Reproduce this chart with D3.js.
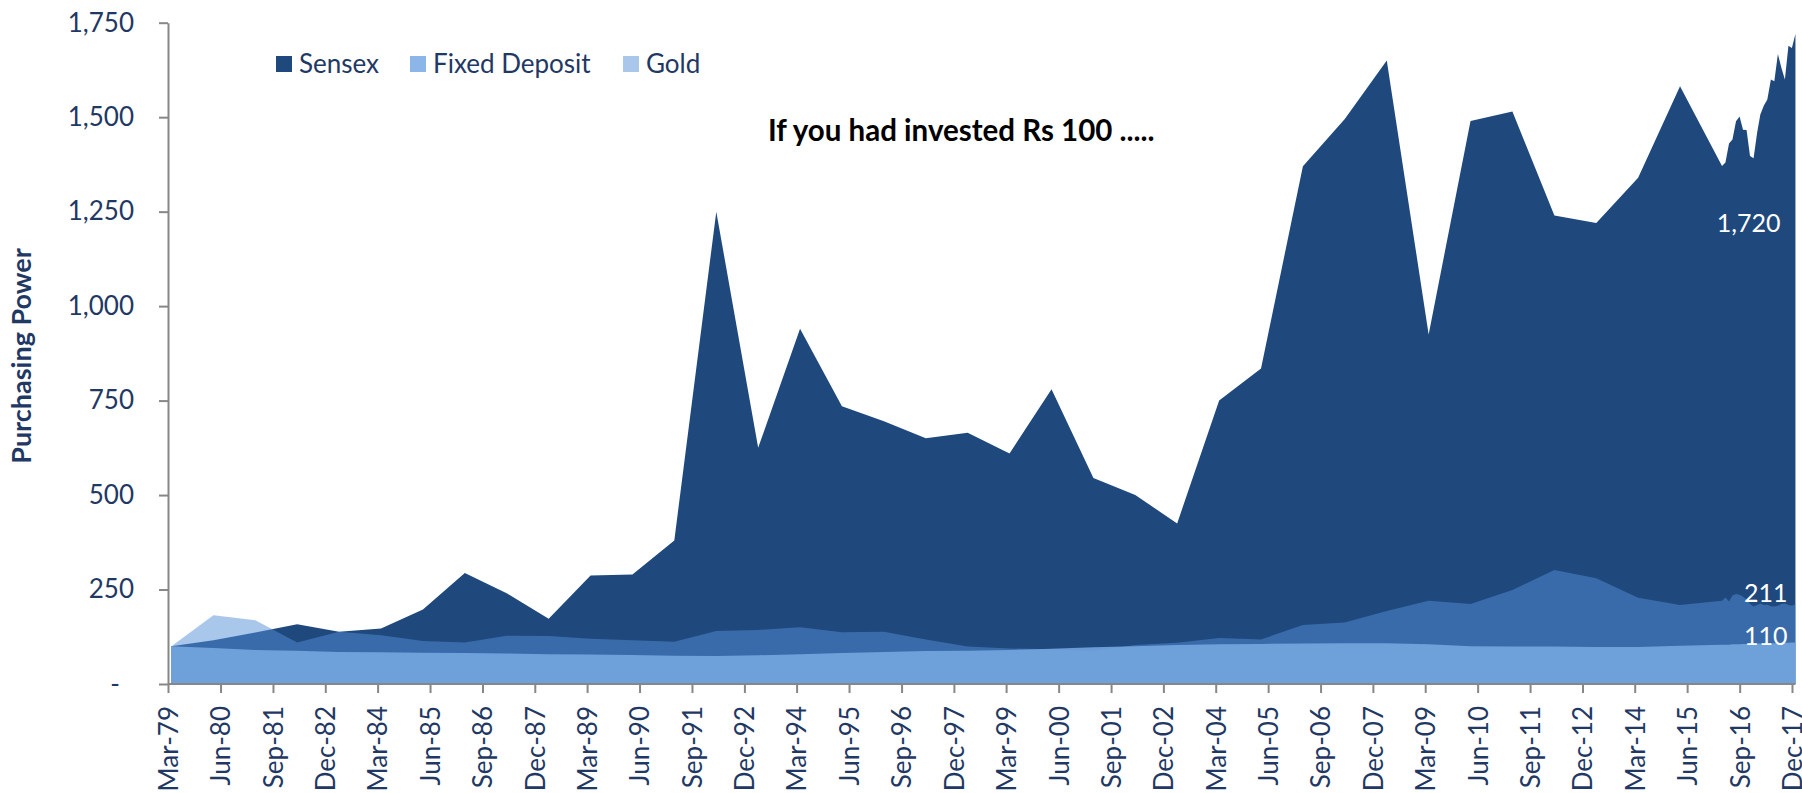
<!DOCTYPE html>
<html><head><meta charset="utf-8">
<script src="https://cdn.jsdelivr.net/npm/d3@7"></script>
<style>
body{margin:0;background:#fff}
svg{display:block}
text{font-family:Lato,"Open Sans",sans-serif}
</style>
</head><body>
<svg id="chart" width="1802" height="793"></svg>
<script>
// ---- data ----
const periods = [
  "Mar-79","Mar-80","Mar-81","Mar-82","Mar-83","Mar-84","Mar-85","Mar-86","Mar-87","Mar-88",
  "Mar-89","Mar-90","Mar-91","Mar-92","Mar-93","Mar-94","Mar-95","Mar-96","Mar-97","Mar-98",
  "Mar-99","Mar-00","Mar-01","Mar-02","Mar-03","Mar-04","Mar-05","Mar-06","Mar-07","Mar-08",
  "Mar-09","Mar-10","Mar-11","Mar-12","Mar-13","Mar-14","Mar-15","Mar-16",
  "Apr-16","May-16","Jun-16","Jul-16","Aug-16","Sep-16","Oct-16","Nov-16","Dec-16",
  "Jan-17","Feb-17","Mar-17","Apr-17","May-17","Jun-17","Jul-17","Aug-17","Sep-17","Oct-17","Nov-17","Dec-17"
];
const sensex = [
  100,116,136,158,138,147,197,294,240,173,
  287,290,380,1250,625,940,735,695,650,665,
  610,780,545,500,425,750,835,1370,1495,1650,
  925,1490,1515,1240,1220,1340,1582,1371,
  1380,1430,1441,1489,1502,1467,1466,1397,1391,
  1459,1507,1531,1547,1600,1595,1667,1630,1600,1689,1683,1720
];
const gold = [
  100,182,169,110,138,129,114,110,128,127,
  120,116,112,140,143,150,137,138,118,99,
  94,92,88,103,109,122,118,156,163,193,
  220,212,249,302,280,228,209,220,
  229,218,234,238,236,231,224,212,205,
  209,213,209,210,206,205,207,212,213,209,207,211
];
const fixedDeposit = [
  100,95,90,88,85,84,83,82,81,79,
  78,77,75,74,76,79,82,85,87,88,
  90,93,97,100,103,105,106,107,108,108,
  105,100,99,99,98,98,101,104,
  104,104,105,105,105,106,106,106,107,
  107,107,107,108,108,108,108,109,109,109,110,110
];
const xTickLabels = ["Mar-79","Jun-80","Sep-81","Dec-82","Mar-84","Jun-85","Sep-86","Dec-87","Mar-89","Jun-90",
  "Sep-91","Dec-92","Mar-94","Jun-95","Sep-96","Dec-97","Mar-99","Jun-00","Sep-01","Dec-02",
  "Mar-04","Jun-05","Sep-06","Dec-07","Mar-09","Jun-10","Sep-11","Dec-12","Mar-14","Jun-15","Sep-16","Dec-17"];
const yTicks = [0,250,500,750,1000,1250,1500,1750];
const seriesNames = ["Sensex","Fixed Deposit","Gold"];

// ---- setup ----
const svg = d3.select("#chart");
const parse = d3.timeParse("%b-%y");
const endOfMonth = d => new Date(d.getFullYear(), d.getMonth()+1, 0);
const dates = periods.map(p => endOfMonth(parse(p)));

const x = d3.scaleTime().domain([parse("Mar-79"), parse("Dec-17")]).range([168, 1792]);
const y = d3.scaleLinear().domain([0, 1750]).range([684, 22.7]);

const axisColor = "#878787";
const textColor = "#1F3864";

const styles = {
  "Sensex": {fill:"#1F497D", opacity:1},
  "Gold": {fill:"#538DD7", opacity:0.5},
  "Fixed Deposit": {fill:"#78A9E3", opacity:0.85}
};

const area = d3.area()
  .x(d => x(d.date))
  .y0(y(0))
  .y1(d => y(d.v));

const mk = arr => arr.map((v,i) => ({date: dates[i], v}));

const plot = svg.append("g");
[["Sensex", sensex], ["Gold", gold], ["Fixed Deposit", fixedDeposit]].forEach(([name, arr]) => {
  plot.append("path")
    .datum(mk(arr))
    .attr("d", area)
    .attr("fill", styles[name].fill)
    .attr("fill-opacity", styles[name].opacity);
});

// ---- axes ----
const yAxis = d3.axisLeft(y)
  .tickValues(yTicks)
  .tickSize(9)
  .tickSizeOuter(0)
  .tickPadding(25)
  .tickFormat(v => v === 0 ? "-" : d3.format(",")(v));

const gy = svg.append("g").attr("transform", `translate(${x.range()[0]},0)`).call(yAxis);
gy.select(".domain").attr("stroke", axisColor).attr("stroke-width", 2);
gy.selectAll(".tick line").attr("stroke", axisColor).attr("stroke-width", 2);
gy.selectAll(".tick text")
  .attr("fill", textColor)
  .style("font-size", "26px")
  .style("font-family", "Lato")
  .attr("x", v => v === 0 ? -48 : -34);

const xAxis = d3.axisBottom(x)
  .tickValues(xTickLabels.map(parse))
  .tickSize(9)
  .tickSizeOuter(0)
  .tickFormat(d3.timeFormat("%b-%y"));

const gx = svg.append("g").attr("transform", `translate(0,${y(0)})`).call(xAxis);
gx.select(".domain").attr("stroke", axisColor).attr("stroke-width", 2)
  .attr("d", `M${x.range()[0]},0H${x(dates[dates.length-1])}`);
gx.selectAll(".tick line").attr("stroke", axisColor).attr("stroke-width", 2);
gx.selectAll(".tick text")
  .attr("fill", textColor)
  .style("font-size", "26px")
  .style("font-family", "Lato")
  .attr("text-anchor", "end")
  .attr("transform", "rotate(-90)")
  .attr("x", -22)
  .attr("y", 0)
  .attr("dy", "0.36em");

// ---- axis title ----
svg.append("text")
  .attr("transform", `translate(31,356) rotate(-90)`)
  .attr("text-anchor", "middle")
  .attr("fill", textColor)
  .style("font-size", "27px")
  .style("font-weight", "bold")
  .text("Purchasing Power");

// ---- chart title ----
svg.append("text")
  .attr("x", 768).attr("y", 141)
  .attr("fill", "#000")
  .style("font-size", "29.5px")
  .style("font-weight", "bold")
  .text("If you had invested Rs 100 .....");

// ---- legend ----
const legendX = [276, 410, 623];
const legend = svg.append("g");
seriesNames.forEach((name, i) => {
  const g = legend.append("g").attr("transform", `translate(${legendX[i]},56)`);
  g.append("rect").attr("width", 16).attr("height", 16)
    .attr("fill", styles[name].fill).attr("fill-opacity", styles[name].opacity);
  g.append("text").attr("x", 23).attr("y", 17)
    .attr("fill", textColor)
    .style("font-size", "26px")
    .text(name);
});

// ---- end labels ----
const lastX = x(dates[dates.length-1]);
const last = i => d3.format(",")(i);
svg.append("text").attr("x", lastX - 15).attr("y", 232)
  .attr("text-anchor", "end").attr("fill", "#fff").style("font-size", "25px")
  .text(last(sensex[sensex.length-1]));
svg.append("text").attr("x", lastX - 8).attr("y", 602)
  .attr("text-anchor", "end").attr("fill", "#fff").style("font-size", "25px")
  .text(last(gold[gold.length-1]));
svg.append("text").attr("x", lastX - 8).attr("y", 645)
  .attr("text-anchor", "end").attr("fill", "#fff").style("font-size", "25px")
  .text(last(fixedDeposit[fixedDeposit.length-1]));
</script>
</body></html>
